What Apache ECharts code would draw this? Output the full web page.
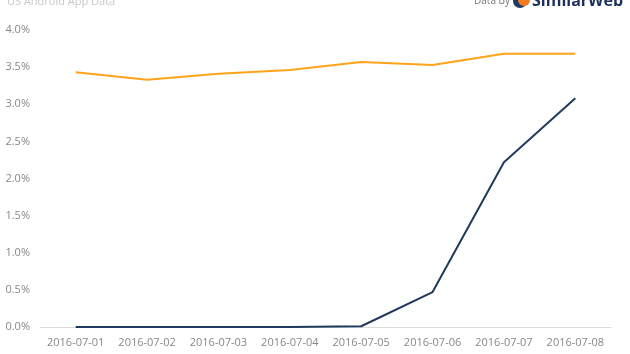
<!DOCTYPE html>
<html><head><meta charset="utf-8">
<script src="https://cdn.jsdelivr.net/npm/echarts@6/dist/echarts.min.js"></script>
<style>html,body{margin:0;padding:0;background:#fff}#c{width:630px;height:354px}</style>
</head><body><div id="c"></div>
<script>
const categories = ['2016-07-01','2016-07-02','2016-07-03','2016-07-04','2016-07-05','2016-07-06','2016-07-07','2016-07-08'];
const orangeSeries = [3.43, 3.33, 3.41, 3.46, 3.57, 3.53, 3.68, 3.68];
const navySeries = [0.0, 0.0, 0.0, 0.0, 0.01, 0.47, 2.22, 3.08];
const yTicks = [0, 0.5, 1, 1.5, 2, 2.5, 3, 3.5, 4];

const chart = echarts.init(document.getElementById('c'), null, {renderer:'canvas'});
const font = '"Open Sans", sans-serif';
chart.setOption({
  animation: false,
  textStyle: {fontFamily: font},
  grid: {left: 40, right: 19, top: 30, bottom: 27},
  graphic: [
    {type:'text', left: 7, top: -4, style:{text:'US Android App Data', fontFamily: font, fontSize: 11, fill:'#c8c8c8'}},
    {type:'text', left: 474, top: -4, style:{text:'Data By', fontFamily: font, fontSize: 10, fill:'#777'}},
    {type:'circle', shape:{cx: 520, cy: 1, r: 7}, style:{fill:'#1d3a66'}},
    {type:'circle', shape:{cx: 524, cy: 0, r: 6}, style:{fill:'#f47a20'}},
    {type:'text', left: 532, top: -7, style:{text:'SimilarWeb', fontFamily: font, fontSize: 16, fontWeight:'bold', fill:'#1d2f5c'}}
  ],
  xAxis: {
    type:'category', data: categories, boundaryGap: true,
    axisLine:{show:true, lineStyle:{color:'#dcdcdc', width:1}},
    axisTick:{show:false},
    axisLabel:{color:'#888', fontSize: 11, fontFamily: font, margin: 10, interval: 0}
  },
  yAxis: {
    type:'value', min: 0, max: 4, interval: 0.5,
    splitLine:{show:false}, axisLine:{show:false}, axisTick:{show:false},
    axisLabel:{color:'#888', fontSize: 11, fontFamily: font, margin: 10,
      formatter: v => v.toFixed(1) + '%'}
  },
  series: [
    {type:'line', data: orangeSeries, symbol:'none', lineStyle:{color:'#ffa31a', width:2}, itemStyle:{color:'#ffa31a'}},
    {type:'line', data: navySeries, symbol:'none', lineStyle:{color:'#1f3a5c', width:2}, itemStyle:{color:'#1f3a5c'}}
  ]
});
</script></body></html>
